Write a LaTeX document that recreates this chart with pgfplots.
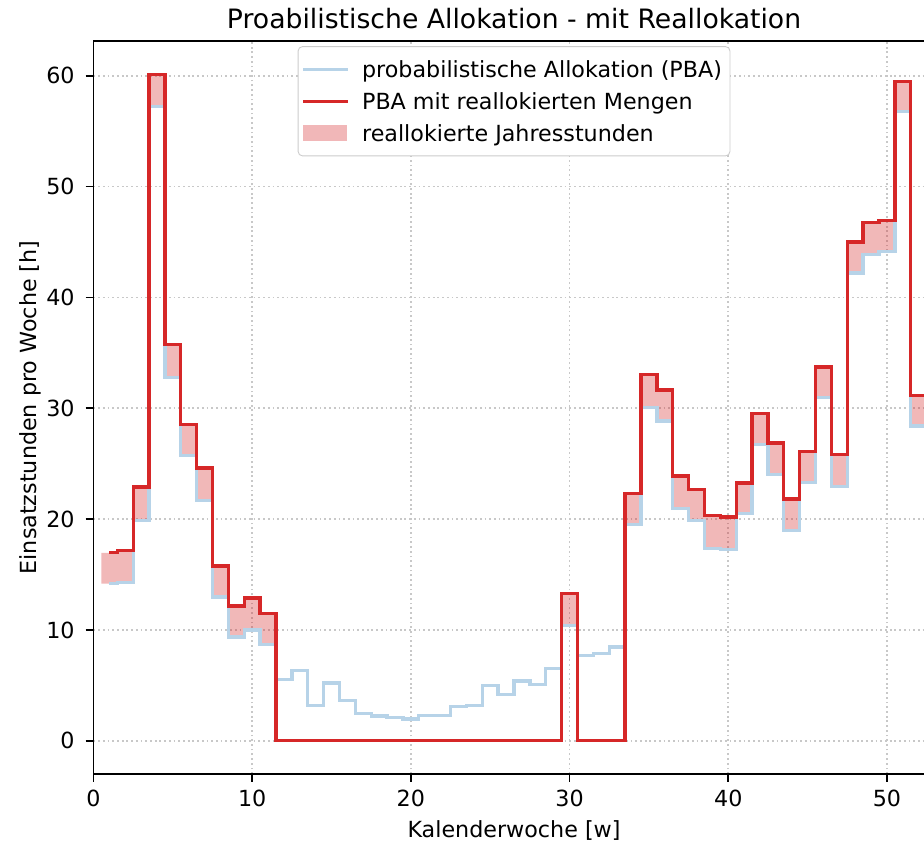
\documentclass[border=0pt]{standalone}
\usepackage{fontspec}
\setmainfont{DejaVu Sans}
\usepackage{pgfplots}
\pgfplotsset{compat=1.18}
\usepackage{pgfplotstable}
\usepgfplotslibrary{fillbetween}
\definecolor{tabred}{RGB}{214,39,40}
\definecolor{pbablue}{RGB}{183,211,232}
\definecolor{gridgray}{RGB}{200,200,200}

\pgfplotsset{
  mylinelegend/.style={legend image code/.code={\draw[sharp corners,##1] (0pt,0pt) -- (20pt,0pt);}},
  myarealegend/.style={legend image code/.code={\fill[sharp corners,##1] (0pt,-3.6pt) rectangle (19.5pt,3.6pt);}},
}

\pgfplotstableread{
w pba red lo
0.5 14.17 16.96 14.17
1 14.17 16.96 14.17
2 14.30 17.17 14.30
3 19.88 22.89 19.88
4 57.23 60.12 57.23
5 32.75 35.73 32.75
6 25.74 28.51 25.74
7 21.68 24.60 21.68
8 12.96 15.76 12.96
9 9.35 12.15 9.35
10 10.00 12.87 10.00
11 8.69 11.46 8.69
12 5.50 0 0
13 6.35 0 0
14 3.19 0 0
15 5.20 0 0
16 3.61 0 0
17 2.44 0 0
18 2.23 0 0
19 2.08 0 0
20 1.96 0 0
21 2.29 0 0
22 2.29 0 0
23 3.07 0 0
24 3.19 0 0
25 4.99 0 0
26 4.15 0 0
27 5.38 0 0
28 5.05 0 0
29 6.50 0 0
30 10.41 13.26 10.41
31 7.70 0 0
32 7.85 0 0
33 8.45 0 0
34 19.52 22.29 19.52
35 30.05 33.02 30.05
36 28.84 31.64 28.84
37 20.93 23.88 20.93
38 19.88 22.65 19.88
39 17.32 20.33 17.32
40 17.23 20.18 17.23
41 20.48 23.25 20.48
42 26.71 29.50 26.71
43 24.00 26.86 24.00
44 18.98 21.80 18.98
45 23.28 26.10 23.28
46 30.95 33.71 30.95
47 22.95 25.80 22.95
48 42.20 45.00 42.20
49 43.85 46.74 43.85
50 44.15 46.92 44.15
51 56.78 59.49 56.78
52 28.40 31.16 28.40
52.5 28.40 31.16 28.40
}\data

\begin{document}
\begin{tikzpicture}
\begin{axis}[
  set layers,
  scale only axis,
  width=378.45pt, height=329.85pt,
  xmin=0, xmax=53, ymin=-3.0, ymax=63.13,
  xtick={0,10,20,30,40,50},
  ytick={0,10,20,30,40,50,60},
  tick pos=left,
  tick align=outside,
  major tick length=3.5pt,
  tick style={line width=0.8pt, black},
  axis line style={line width=0.8pt},
  grid=major,
  major grid style={gridgray, line width=0.8pt, dash pattern=on 0.8pt off 1.32pt},
  /pgf/number format/assume math mode=true,
  ticklabel style={font=\normalsize},
  xticklabel style={inner sep=0pt, anchor=north},
  yticklabel style={inner sep=0pt, anchor=east},
  xticklabel shift=3.5pt,
  yticklabel shift=4.8pt,
  every axis title shift=0pt,
  title={Proabilistische Allokation - mit Reallokation},
  title style={at={(axis description cs:0.5,1)}, anchor=base, yshift=5.8pt, font=\large, inner sep=0pt},
  xlabel={Kalenderwoche [w]},
  xlabel style={at={(axis description cs:0.5,0)}, anchor=center, yshift=-25.2pt, font=\normalsize},
  ylabel={Einsatzstunden pro Woche [h]},
  ylabel style={at={(axis description cs:0,0.5)}, anchor=center, yshift=28.6pt, font=\normalsize},
  legend style={at={(0.5,0.993)}, anchor=north, draw=black!20, rounded corners=2pt, fill=white,
    font=\normalsize, inner xsep=1.6pt, inner ysep=3pt, /tikz/column sep=3.7pt,
    nodes={inner xsep=2pt, inner ysep=2.2pt, text height=8.6pt, text depth=1.4pt}},
  legend cell align=left,
]
\addplot[draw=none, name path=H, const plot mark mid, forget plot] table[x=w,y=red]{\data};
\addplot[draw=none, name path=L, const plot mark mid, forget plot] table[x=w,y=lo]{\data};
\addplot[pbablue, line width=1.5pt, const plot mark mid, forget plot, skip coords between index={0}{1}] table[x=w,y=pba]{\data};
\addplot[fill=tabred, fill opacity=0.33, draw=none, forget plot, on layer=main] fill between[of=H and L];
\addplot[tabred, line width=1.5pt, const plot mark mid, forget plot, skip coords between index={0}{1}] table[x=w,y=red]{\data};

\addlegendimage{mylinelegend, pbablue, line width=1.5pt}
\addlegendentry{probabilistische Allokation (PBA)}
\addlegendimage{mylinelegend, tabred, line width=1.5pt}
\addlegendentry{PBA mit reallokierten Mengen}
\addlegendimage{myarealegend, fill=tabred, fill opacity=0.33, draw=none}
\addlegendentry{reallokierte Jahresstunden}
\end{axis}
\pgfresetboundingbox
\path[use as bounding box] ([xshift=-42.08pt,yshift=-31.05pt]current axis.south west) rectangle ([xshift=373.7pt,yshift=18.45pt]current axis.north west);
\end{tikzpicture}
\end{document}
